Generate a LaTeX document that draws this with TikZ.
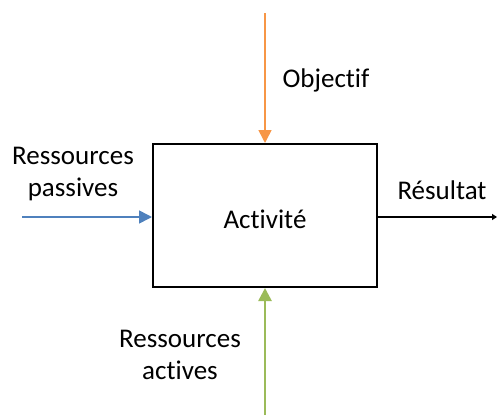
\documentclass[tikz,border=0pt]{standalone}
\usepackage{fontspec}
\setmainfont[Ligatures=NoCommon]{Carlito}
\usetikzlibrary{arrows.meta}
\definecolor{io_orange}{RGB}{247, 150, 70}
\definecolor{io_blue}{RGB}{79, 129, 189}
\definecolor{io_green}{RGB}{155, 187, 89}
\tikzstyle{act}=[rectangle,draw=black,line width=2pt,
  minimum width=224pt,minimum height=143pt,inner sep=0pt]
\tikzstyle{lbl}=[align=center,inner sep=0pt]
\tikzstyle{flow}=[line width=1.6pt,-{Triangle[length=13pt,width=13pt]}]
\begin{document}
\begin{tikzpicture}[x=1pt,y=-1pt,font=\fontsize{27}{32}\selectfont]
        \useasboundingbox (0,0) rectangle (497,415);
        \node [style=act] (a) at (265,215.5) {};
        \node [style=lbl] (at) at (265,219) {Activité};
        \coordinate (o) at (265,13);
        \coordinate (p) at (22,217);
        \coordinate (g) at (265,415);
        \coordinate (r) at (497,217);
        \node [style=lbl] (lo) at (326,80) {Objectif};
        \node [style=lbl] (lp) at (73,174) {Ressources\\passives};
        \node [style=lbl] (lg) at (180,355) {Ressources\\actives};
        \node [style=lbl] (lr) at (442,190) {Résultat};
        \draw [style=flow,draw=io_orange,fill=io_orange] (o) to (a.north);
        \draw [style=flow,draw=io_blue,fill=io_blue] (p) to (a.west |- p);
        \draw [style=flow,draw=io_green,fill=io_green,line width=2.6pt] (g) to (a.south);
        \draw [line width=2pt,-{Triangle[length=5pt,width=6pt]}] (a.east |- r) to (r);
    \end{tikzpicture}
\end{document}
